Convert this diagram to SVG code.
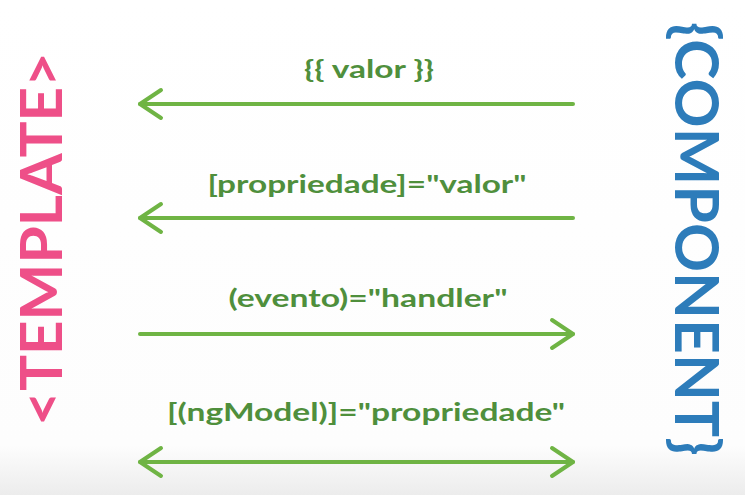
<svg xmlns="http://www.w3.org/2000/svg" width="745" height="495" viewBox="0 0 745 495">
  <defs>
    <linearGradient id="bg" x1="0" y1="0" x2="0" y2="1">
      <stop offset="0" stop-color="#ffffff"/>
      <stop offset="0.9" stop-color="#fdfdfd"/>
      <stop offset="1" stop-color="#ececec"/>
    </linearGradient>
    <marker id="head" viewBox="0 0 30 34" refX="25" refY="17" markerWidth="30" markerHeight="34" markerUnits="userSpaceOnUse" orient="auto-start-reverse">
      <polyline points="4,3 25,17 4,31" fill="none" stroke="#6fb444" stroke-width="4" stroke-linecap="round" stroke-linejoin="round"/>
    </marker>
  </defs>
  <style>
    .title { font-family: "Lato", "Open Sans", sans-serif; font-weight: 700; }
    .tpl { fill: #ee4f88; font-size: 58px; }
    .cmp { fill: #2d7cba; font-size: 61px; }
    .lbl { font-family: "Lato", "Open Sans", sans-serif; font-weight: 700; font-size: 25px; fill: #4f8f3c; text-anchor: middle; }
    .arrow { fill: none; stroke: #6fb444; stroke-width: 4; stroke-linecap: round; }
  </style>
  <rect width="745" height="495" fill="url(#bg)"/>

  <g id="template">
    <text class="title tpl" transform="translate(62,426) rotate(-90)" textLength="374" lengthAdjust="spacingAndGlyphs">&lt;TEMPLATE&gt;</text>
  </g>

  <g id="component">
    <text class="title cmp" transform="translate(675,22) rotate(90)" textLength="434" lengthAdjust="spacingAndGlyphs">{COMPONENT}</text>
  </g>

  <g id="labels">
    <text id="lbl-interp" class="lbl" x="369" y="78" font-size="27" textLength="130" lengthAdjust="spacingAndGlyphs">{{ valor }}</text>
    <text id="lbl-prop" class="lbl" x="367" y="193" textLength="319" lengthAdjust="spacingAndGlyphs">[propriedade]="valor"</text>
    <text id="lbl-event" class="lbl" x="368" y="307" textLength="279" lengthAdjust="spacingAndGlyphs">(evento)="handler"</text>
    <text id="lbl-model" class="lbl" x="366" y="421" textLength="398" lengthAdjust="spacingAndGlyphs">[(ngModel)]="propriedade"</text>
  </g>

  <g id="connectors">
    <line class="arrow" x1="573" y1="104" x2="140" y2="104" marker-end="url(#head)"/>
    <line class="arrow" x1="573" y1="218" x2="140" y2="218" marker-end="url(#head)"/>
    <line class="arrow" x1="140" y1="334" x2="573" y2="334" marker-end="url(#head)"/>
    <line class="arrow" x1="140" y1="462" x2="573" y2="462" marker-start="url(#head)" marker-end="url(#head)"/>
  </g>
</svg>
